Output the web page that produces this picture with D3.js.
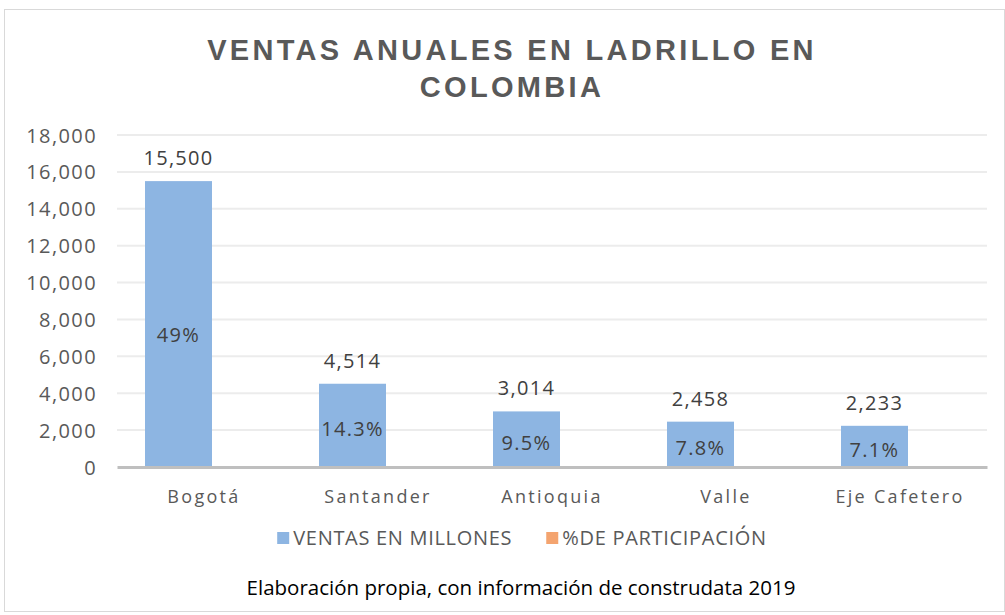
<!DOCTYPE html>
<html>
<head>
<meta charset="utf-8">
<script src="https://cdn.jsdelivr.net/npm/d3@7"></script>
<style>
  body { margin: 0; background: #fff; }
  svg text { font-family: "Open Sans", "Noto Sans", sans-serif; }
</style>
</head>
<body>
<div id="chart"></div>
<script>
// data
var regions = ["Bogotá", "Santander", "Antioquia", "Valle", "Eje Cafetero"];
var ventas = [15500, 4514, 3014, 2458, 2233];
var participacion = ["49%", "14.3%", "9.5%", "7.8%", "7.1%"];
var yTicks = [0, 2000, 4000, 6000, 8000, 10000, 12000, 14000, 16000, 18000];
var seriesNames = ["VENTAS EN MILLONES", "%DE PARTICIPACIÓN"];
var seriesColors = ["#8db5e2", "#f4a46f"];

function init() {
    var w = 1005;
    var h = 615;
    var left = 117, right = 987, top = 135, bottom = 467;

    var svg = d3.select("#chart")
        .append("svg")
        .attr("width", w)
        .attr("height", h);

    // chart frame
    svg.append("rect")
        .attr("x", 4.5).attr("y", 9.5)
        .attr("width", w - 5).attr("height", h - 13)
        .attr("fill", "#fff")
        .attr("stroke", "#d9d9d9");

    // title
    var title = svg.append("text")
        .attr("text-anchor", "middle")
        .attr("fill", "#595959")
        .style("font-family", "'Liberation Sans', Arial, sans-serif")
        .style("font-weight", "bold")
        .style("font-size", "29px")
        .style("letter-spacing", "3.3px");
    title.append("tspan").attr("x", 512).attr("y", 60).text("VENTAS ANUALES EN LADRILLO EN");
    title.append("tspan").attr("x", 512).attr("y", 97).text("COLOMBIA");

    // one band per region, split between the two series (clustered)
    var xScale = d3.scaleBand()
        .domain(regions)
        .range([left, right]);

    var x1 = d3.scaleBand()
        .domain(seriesNames)
        .range([28, 162]);

    var yScale = d3.scaleLinear()
        .domain([0, 18000])
        .range([bottom, top]);

    // gridlines
    svg.append("g")
        .selectAll("line")
        .data(yTicks.slice(1))
        .enter()
        .append("line")
        .attr("x1", left).attr("x2", right)
        .attr("y1", function(d) { return yScale(d); })
        .attr("y2", function(d) { return yScale(d); })
        .attr("stroke", "#ececec")
        .attr("stroke-width", 2);

    // y axis labels
    var yAxis = d3.axisLeft(yScale)
        .tickValues(yTicks)
        .tickFormat(d3.format(","))
        .tickSize(0)
        .tickPadding(20);
    var yG = svg.append("g")
        .attr("transform", "translate(" + left + ",0)")
        .call(yAxis);
    yG.select(".domain").remove();
    yG.selectAll("text")
        .attr("fill", "#595959")
        .attr("dy", "0.35em")
        .style("font-size", "20px")
        .style("letter-spacing", "1.4px");

    function barX(i) {
        return xScale(regions[i]) + x1(seriesNames[0]);
    }

    // bars
    svg.append("g")
        .selectAll("rect")
        .data(ventas)
        .enter()
        .append("rect")
        .attr("x", function(d, i) { return barX(i); })
        .attr("y", function(d) { return yScale(d); })
        .attr("width", x1.bandwidth())
        .attr("height", function(d) { return yScale(0) - yScale(d); })
        .attr("fill", seriesColors[0]);

    // baseline / x axis
    var xAxis = d3.axisBottom(xScale).tickSize(0).tickPadding(23);
    var xG = svg.append("g")
        .attr("transform", "translate(0," + bottom + ")")
        .call(xAxis);
    xG.select(".domain")
        .attr("stroke", "#bfbfbf")
        .attr("stroke-width", 3);
    xG.selectAll("text")
        .attr("fill", "#595959")
        .style("font-size", "18px")
        .style("letter-spacing", "2.3px");

    // value labels
    svg.append("g")
        .selectAll("text")
        .data(ventas)
        .enter()
        .append("text")
        .attr("x", function(d, i) { return barX(i) + x1.bandwidth() / 2; })
        .attr("y", function(d) { return yScale(d) - 16; })
        .attr("text-anchor", "middle")
        .attr("fill", "#404040")
        .style("font-size", "20px")
        .style("letter-spacing", "1.3px")
        .text(d3.format(","));

    // percentage labels inside bars (the tall one sits a bit lower in the original)
    svg.append("g")
        .selectAll("text")
        .data(participacion)
        .enter()
        .append("text")
        .attr("x", function(d, i) { return barX(i) + x1.bandwidth() / 2; })
        .attr("y", function(d, i) { return yScale(ventas[i] / 2) + (i === 0 ? 18 : 11); })
        .attr("text-anchor", "middle")
        .attr("fill", "#404040")
        .style("font-size", "20px")
        .style("letter-spacing", "1.3px")
        .text(function(d) { return d; });

    // legend
    var legend = svg.append("g");
    var items = legend.selectAll("g")
        .data(seriesNames)
        .enter()
        .append("g");
    items.append("rect")
        .attr("width", 12).attr("height", 12)
        .attr("y", -13)
        .attr("fill", function(d, i) { return seriesColors[i]; });
    items.append("text")
        .attr("x", 16)
        .attr("fill", "#595959")
        .style("font-size", "20px")
        .style("letter-spacing", "0.7px")
        .text(function(d) { return d; });
    var xPos = 0;
    items.each(function() {
        var g = d3.select(this);
        g.attr("transform", "translate(" + xPos + ",0)");
        xPos += this.getBBox().width + 34;
    });
    xPos -= 34;
    legend.attr("transform", "translate(" + (522 - xPos / 2) + ",545)");

    // source note
    svg.append("text")
        .attr("x", 521)
        .attr("y", 595)
        .attr("text-anchor", "middle")
        .attr("fill", "#000")
        .style("font-size", "20.5px")
        .text("Elaboración propia, con información de construdata 2019");
}

window.onload = init;
</script>
</body>
</html>
